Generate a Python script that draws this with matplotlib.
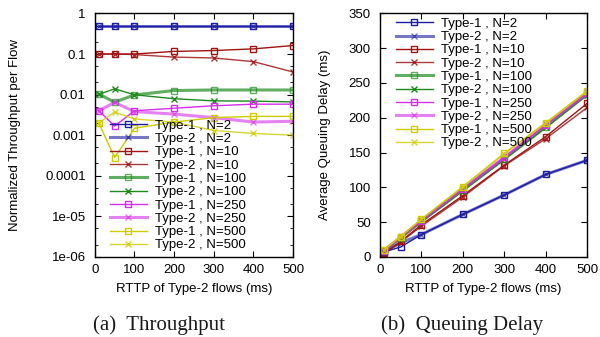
import numpy as np
import matplotlib
matplotlib.use("Agg")
import matplotlib.pyplot as plt
from matplotlib.ticker import LogLocator, NullFormatter, FixedLocator, FixedFormatter

plt.rcParams['font.family'] = ['Liberation Sans', 'DejaVu Sans']

# RTTP of Type-2 flows (ms)
rttp = [10, 50, 100, 200, 300, 400, 500]

# (a) normalized throughput per flow
thr_t1_n2 = [0.5, 0.5, 0.5, 0.5, 0.5, 0.5, 0.5]
thr_t2_n2 = [0.49, 0.49, 0.49, 0.49, 0.49, 0.49, 0.49]
thr_t1_n10 = [0.1, 0.1, 0.1, 0.116, 0.122, 0.134, 0.162]
thr_t2_n10 = [0.1, 0.1, 0.097, 0.084, 0.08, 0.065, 0.036]
thr_t1_n100 = [0.0103, 0.0065, 0.0098, 0.0126, 0.013, 0.013, 0.013]
thr_t2_n100 = [0.0101, 0.0139, 0.0099, 0.0079, 0.007, 0.0069, 0.0066]
thr_t1_n250 = [0.004, 0.00167, 0.004, 0.0046, 0.0053, 0.0058, 0.0058]
thr_t2_n250 = [0.004, 0.0064, 0.0038, 0.0033, 0.0027, 0.0021, 0.0022]
thr_t1_n500 = [0.002, 0.00028, 0.00148, 0.0021, 0.0027, 0.0029, 0.0029]
thr_t2_n500 = [0.002, 0.0037, 0.0025, 0.0021, 0.0013, 0.0011, 0.001]

# (b) average queuing delay (ms)
dly_t1_n2 = [7, 14, 32, 61, 89, 118.5, 139]
dly_t2_n2 = [7, 20, 32, 61, 89, 118.5, 139]
dly_t1_n10 = [5, 22, 46, 88, 132, 173, 221]
dly_t2_n10 = [5, 21, 44, 86, 131, 170, 215]
dly_t1_n100 = [9, 27, 51, 96, 141, 187, 234]
dly_t2_n100 = [9, 27, 50, 95, 140, 186, 233]
dly_t1_n250 = [9, 28, 52, 98, 143, 190, 236]
dly_t2_n250 = [9, 28, 52, 98, 143, 190, 235]
dly_t1_n500 = [10, 29, 54, 101, 149, 193, 239]
dly_t2_n500 = [10, 29, 54, 100, 148, 192, 238]

labels = ["Type-1 , N=2", "Type-2 , N=2", "Type-1 , N=10", "Type-2 , N=10",
          "Type-1 , N=100", "Type-2 , N=100", "Type-1 , N=250", "Type-2 , N=250",
          "Type-1 , N=500", "Type-2 , N=500"]
colors = ['#1c1ca4', '#1c1ca4', '#a01414', '#a01414', '#1e8a1e', '#1e8a1e',
          '#d42ee8', '#d42ee8', '#cccc00', '#cccc00']
markers = ['s', 'x', 's', 'x', 's', 'x', 's', 'x', 's', 'x']
# some lines look thicker/lighter in the original rendering
widths = [1.0, 2.2, 1.0, 1.0, 2.2, 1.0, 1.0, 2.2, 1.0, 1.0]
alphas = [1.0, 0.6, 1.0, 0.85, 0.7, 1.0, 1.0, 0.6, 1.0, 0.8]

thr = [thr_t1_n2, thr_t2_n2, thr_t1_n10, thr_t2_n10, thr_t1_n100, thr_t2_n100,
       thr_t1_n250, thr_t2_n250, thr_t1_n500, thr_t2_n500]
dly = [dly_t1_n2, dly_t2_n2, dly_t1_n10, dly_t2_n10, dly_t1_n100, dly_t2_n100,
       dly_t1_n250, dly_t2_n250, dly_t1_n500, dly_t2_n500]

fs = 9.5

fig = plt.figure(figsize=(6.0, 3.37), dpi=100)
ax1 = fig.add_axes([0.158, 0.238, 0.3305, 0.722])
ax2 = fig.add_axes([0.633, 0.238, 0.346, 0.722])


def draw(ax, series):
    for i in range(len(series)):
        ax.plot(rttp, series[i], color=colors[i], marker=markers[i], markersize=4.2,
                markerfacecolor='none', markeredgewidth=1.0, linewidth=widths[i],
                alpha=alphas[i], label=labels[i])
    ax.tick_params(direction='in', top=True, right=True, labelsize=fs,
                   length=4, width=0.8)
    ax.tick_params(axis='x', pad=5)
    ax.tick_params(axis='y', pad=6.5)
    ax.tick_params(which='minor', direction='in', top=True, right=True, length=2, width=0.6)
    for s in ax.spines.values():
        s.set_linewidth(1.0)
    ax.set_xlim(0, 500)
    ax.set_xticks([0, 100, 200, 300, 400, 500])
    ax.set_xlabel("RTTP of Type-2 flows (ms)", fontsize=fs)
    ax.xaxis.set_label_coords(0.5, -0.134)
    ax.xaxis.label.set_va('center')


draw(ax1, thr)
ax1.set_yscale('log')
ax1.set_ylim(1e-6, 1)
dec = [1e-6, 1e-5, 1e-4, 1e-3, 1e-2, 1e-1, 1]
ax1.yaxis.set_major_locator(FixedLocator(dec))
ax1.yaxis.set_major_formatter(FixedFormatter(["1e-06", "1e-05", "0.0001", "0.001", "0.01", "0.1", "1"]))
ax1.yaxis.set_minor_locator(LogLocator(base=10, subs=(2.0, 5.0)))
ax1.yaxis.set_minor_formatter(NullFormatter())
ax1.set_ylabel("Normalized Throughput per Flow", fontsize=fs)
ax1.yaxis.set_label_coords(-0.402, 0.5)
ax1.yaxis.label.set_va('center')
ax1.legend(loc='upper left', bbox_to_anchor=(0.077, 0.564), frameon=False,
           fontsize=fs, handlelength=2.78, handletextpad=0.6, labelspacing=0.08,
           borderpad=0, borderaxespad=0)

draw(ax2, dly)
ax2.set_ylim(0, 350)
ax2.set_yticks(np.arange(0, 351, 50))
ax2.set_ylabel("Average Queuing Delay (ms)", fontsize=fs)
ax2.yaxis.set_label_coords(-0.2635, 0.5)
ax2.yaxis.label.set_va('center')
ax2.legend(loc='upper left', bbox_to_anchor=(0.0785, 0.983), frameon=False,
           fontsize=fs, handlelength=2.78, handletextpad=0.6, labelspacing=0.08,
           borderpad=0, borderaxespad=0)

fig.text(159 / 600, 1 - 325 / 337, "(a)  Throughput", ha='center', va='center',
         fontsize=15, family='Liberation Serif', color='#1a1a1a')
fig.text(462 / 600, 1 - 325 / 337, "(b)  Queuing Delay", ha='center', va='center',
         fontsize=15, family='Liberation Serif', color='#1a1a1a')

fig.savefig("out.png", dpi=100)
